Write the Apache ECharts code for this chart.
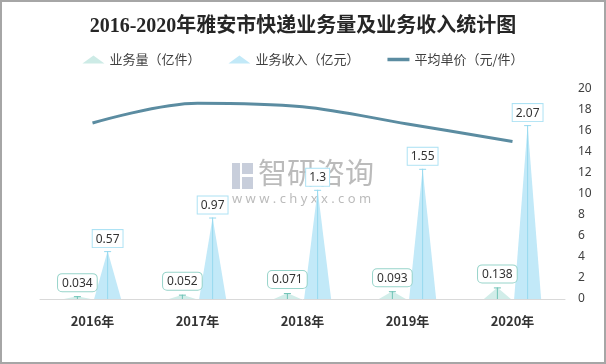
<!DOCTYPE html>
<html>
<head>
<meta charset="utf-8">
<script src="https://cdn.jsdelivr.net/npm/echarts@6/dist/echarts.min.js"></script>
<style>
html,body{margin:0;padding:0;background:#fff;}
#chart{width:606px;height:364px;}
</style>
</head>
<body>
<div id="chart"></div>
<script>
const years = ['2016年', '2017年', '2018年', '2019年', '2020年'];
const volume = [0.034, 0.052, 0.071, 0.093, 0.138];     // 业务量（亿件）
const revenue = [0.57, 0.97, 1.3, 1.55, 2.07];          // 业务收入（亿元）
const avgPrice = [16.76, 18.65, 18.31, 16.67, 15.0];    // 平均单价（元/件）
const rightTicks = { min: 0, max: 20, interval: 2 };
const leftRange = { min: 0, max: 2.5 };

const names = ['业务量（亿件）', '业务收入（亿元）', '平均单价（元/件）'];
const cjk = "'Noto Sans CJK SC', 'Noto Sans', sans-serif";

const chart = echarts.init(document.getElementById('chart'), null, { renderer: 'canvas' });

const barCommon = { barWidth: 27, barGap: '12%', barCategoryGap: '20%' };

const option = {
  animation: false,
  backgroundColor: '#fff',
  title: {
    text: '2016-2020年雅安市快递业务量及业务收入统计图',
    left: 'center',
    top: 12,
    textStyle: { fontSize: 20, fontWeight: 'bold', color: '#262626', fontFamily: "'Liberation Serif', 'Noto Sans CJK SC', serif" }
  },
  legend: {
    top: 48,
    left: 'center',
    itemWidth: 22,
    itemHeight: 8,
    itemGap: 28,
    textStyle: { fontSize: 13, color: '#404040', fontFamily: cjk },
    data: [
      { name: names[0], icon: 'path://M0,8 L11,0 L22,8 Z', itemStyle: { color: '#cdebe6' } },
      { name: names[1], icon: 'path://M0,8 L11,0 L22,8 Z', itemStyle: { color: '#c2e9f8' } },
      { name: names[2], icon: 'path://M0,0 L22,0 L22,3.5 L0,3.5 Z', itemStyle: { color: '#5b8ca1' } }
    ]
  },
  grid: { left: 40, right: 41, top: 89, bottom: 65 },
  xAxis: [
    {
      type: 'category', data: years,
      axisLine: { lineStyle: { color: '#d9d9d9', width: 1 } },
      axisTick: { show: false },
      axisLabel: { fontSize: 13, fontWeight: 'bold', color: '#333', margin: 16, fontFamily: cjk }
    },
    { type: 'category', data: years, show: false },
    { type: 'category', data: years, show: false }
  ],
  yAxis: [
    { type: 'value', min: leftRange.min, max: leftRange.max, show: false, splitLine: { show: false } },
    {
      type: 'value', position: 'right', min: rightTicks.min, max: rightTicks.max, interval: rightTicks.interval,
      axisLine: { show: false }, axisTick: { show: false }, splitLine: { show: false },
      axisLabel: { fontSize: 12, color: '#404040', margin: 13, fontFamily: "'Noto Sans', sans-serif" }
    }
  ],
  series: [
    Object.assign({
      name: names[0], type: 'pictorialBar', symbol: 'triangle', data: volume,
      itemStyle: { color: '#d1ede9' }, z: 2,
      label: {
        show: true, position: 'top', distance: 5, color: '#333', fontSize: 12, fontFamily: "'Noto Sans', sans-serif",
        backgroundColor: '#fff', borderColor: '#97d4ca', borderWidth: 1, borderRadius: 4, padding: [3, 4, 2, 4]
      }
    }, barCommon),
    Object.assign({
      name: names[1], type: 'pictorialBar', symbol: 'triangle', data: revenue,
      itemStyle: { color: '#c2e9f8' }, z: 2,
      label: {
        show: true, position: 'top', distance: 4, color: '#333', fontSize: 12, fontFamily: "'Noto Sans', sans-serif",
        backgroundColor: '#fff', borderColor: '#ade2f4', borderWidth: 1, padding: [3, 3, 2, 3]
      }
    }, barCommon),
    {
      name: names[2], type: 'line', yAxisIndex: 1, data: avgPrice, smooth: 0.35,
      symbol: 'none', itemStyle: { color: '#5b8ca1' }, lineStyle: { color: '#5b8ca1', width: 3 }, z: 5
    },
    Object.assign({
      name: 'v-line', type: 'pictorialBar', xAxisIndex: 1, symbol: 'rect', symbolSize: [1, '100%'], data: volume,
      itemStyle: { color: '#6fc3b6' }, z: 3, silent: true
    }, barCommon),
    Object.assign({
      name: 'r-line', type: 'pictorialBar', xAxisIndex: 1, symbol: 'rect', symbolSize: [1, '100%'], data: revenue,
      itemStyle: { color: '#96d9ef' }, z: 3, silent: true
    }, barCommon),
    Object.assign({
      name: 'v-cap', type: 'pictorialBar', xAxisIndex: 2, symbol: 'rect', symbolSize: [7, 1], symbolPosition: 'end', data: volume,
      itemStyle: { color: '#6fc3b6' }, z: 3, silent: true
    }, barCommon),
    Object.assign({
      name: 'r-cap', type: 'pictorialBar', xAxisIndex: 2, symbol: 'rect', symbolSize: [7, 1], symbolPosition: 'end', data: revenue,
      itemStyle: { color: '#96d9ef' }, z: 3, silent: true
    }, barCommon)
  ],
  graphic: [
    { type: 'rect', z: 100, silent: true, shape: { x: 1, y: 1, width: 604, height: 362 }, style: { fill: 'none', stroke: '#a6a6a6', lineWidth: 2 } },
    { type: 'group', z: 50, silent: true, children: [
      { type: 'rect', shape: { x: 232, y: 163, width: 8, height: 26 }, style: { fill: '#b6bdcf', opacity: 0.75 } },
      { type: 'rect', shape: { x: 242, y: 163, width: 11, height: 11 }, style: { fill: '#b6bdcf', opacity: 0.75 } },
      { type: 'rect', shape: { x: 242, y: 177, width: 11, height: 12 }, style: { fill: '#b6bdcf', opacity: 0.75 } },
      { type: 'text', x: 258, y: 158, style: { text: '智研咨询', fontSize: 29, fill: '#9e9e9e', opacity: 0.7, fontFamily: cjk } },
      { type: 'text', x: 232, y: 193, style: { text: 'w w w . c h y x x . c o m', fontSize: 13, fill: '#9e9e9e', opacity: 0.7, fontFamily: "'Noto Sans', sans-serif" } }
    ] }
  ]
};

chart.setOption(option);
</script>
</body>
</html>
